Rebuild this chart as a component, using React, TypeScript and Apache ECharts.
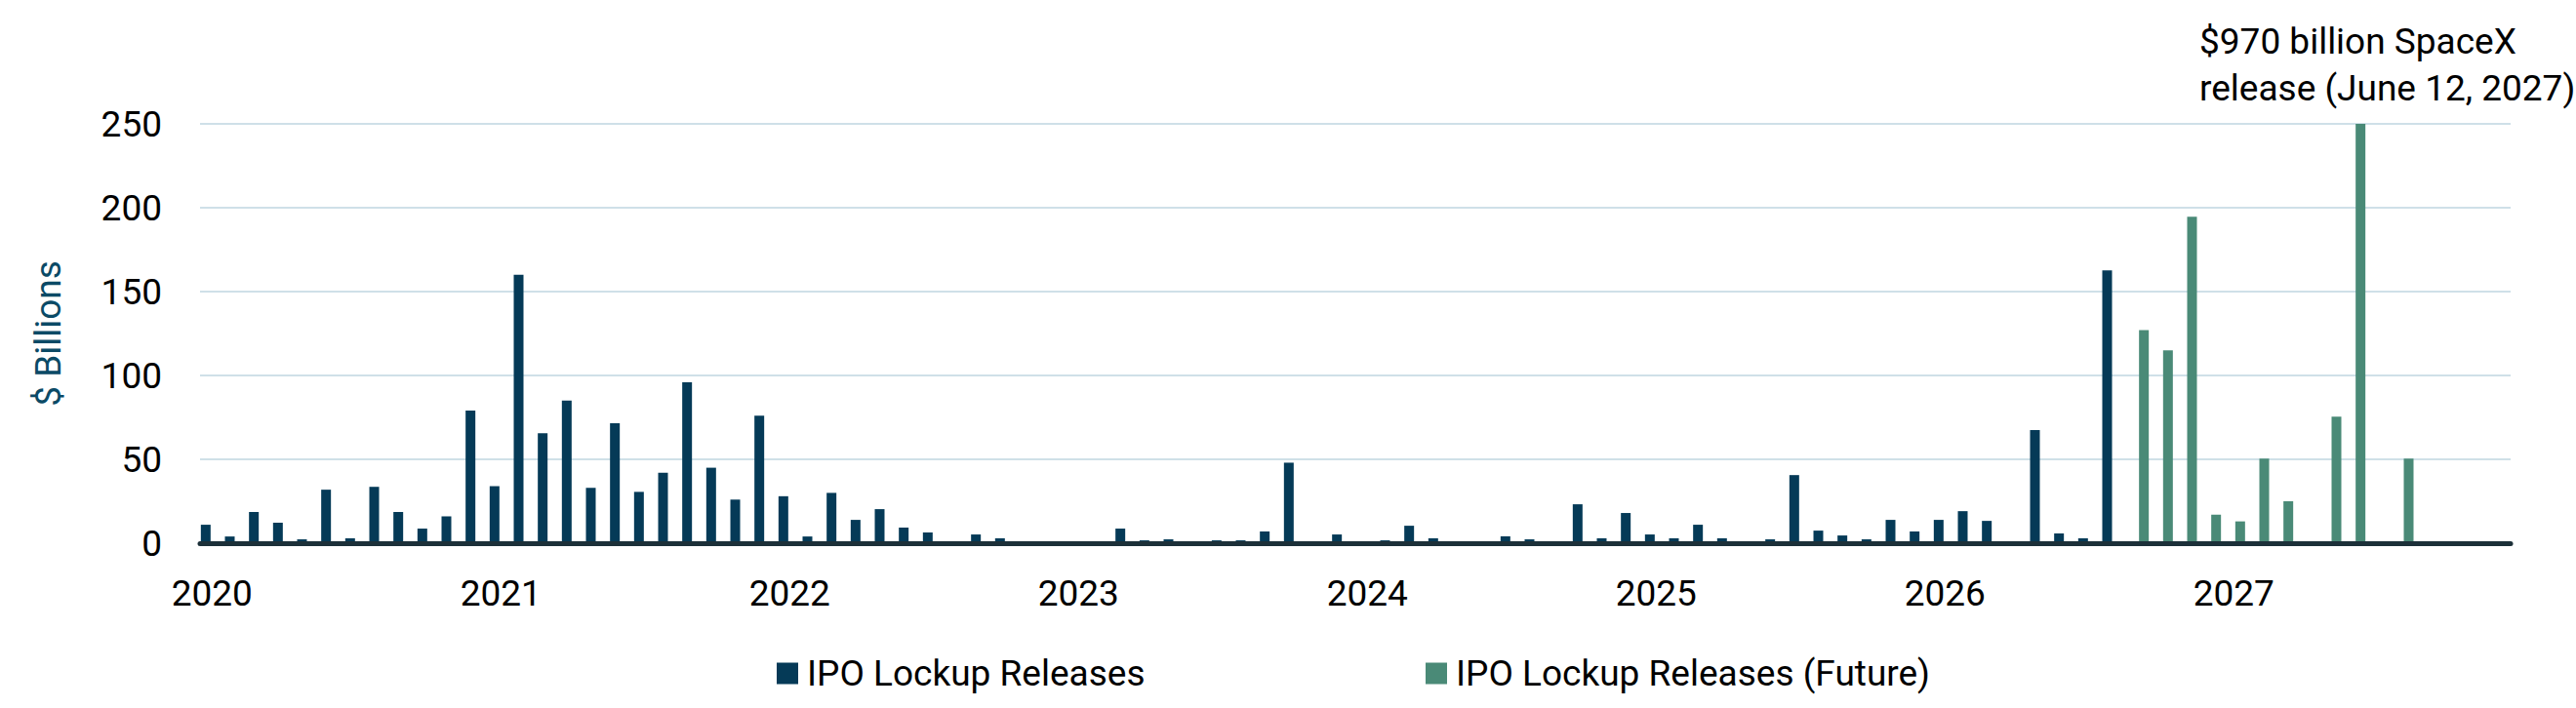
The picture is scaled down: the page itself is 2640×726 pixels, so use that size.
import { useEffect, useRef } from 'react';
import * as echarts from 'echarts';

// months Jan 2020 .. Dec 2027
const years = ['2020', '2021', '2022', '2023', '2024', '2025', '2026', '2027'];
const months = years.flatMap((y) =>
  ['01', '02', '03', '04', '05', '06', '07', '08', '09', '10', '11', '12'].map((m) => `${y}-${m}`)
);

// $ billions, Jan 2020 .. Aug 2026
const lockupReleases = [
  11, 4, 18.6, 12.2, 2.3, 31.9, 2.9, 33.6, 18.6, 8.7, 16, 79,
  34, 160, 65.6, 85, 33, 71.5, 30.6, 42, 96, 45, 26, 76,
  28, 4, 30, 13.9, 20.3, 9.3, 6.4, null, 5.2, 2.9, null, null,
  null, null, 8.7, 1.7, 2.3, null, 1.7, 1.7, 7, 48, null, 5.2,
  null, 1.7, 10.4, 2.9, null, null, 4.1, 2.3, null, 23.2, 2.9, 18,
  5.2, 2.9, 11, 2.9, null, 2.3, 40.6, 7.5, 4.6, 2.3, 13.9, 7,
  13.9, 19.1, 13.3, null, 67.5, 5.8, 2.9, 162.6,
];

// $ billions, Sep 2026 .. Dec 2027 (Jun 2027 = SpaceX, off the scale)
const futureReleases = [127, 115, 194.6, 17, 13, 50.5, 25, null, 75.5, 970, null, 50.5, null, null, null, null];

const yTicks = [0, 50, 100, 150, 200, 250];

const FONT = 'Roboto, sans-serif';

export default function App() {
  const chartRef = useRef(null);

  useEffect(() => {
    document.body.style.margin = '0';
    const chart = echarts.init(chartRef.current, null, { renderer: 'svg' });

    const pastData = months.map((_, i) => (i < lockupReleases.length ? lockupReleases[i] : null));
    const futureData = months.map((_, i) => {
      const j = i - lockupReleases.length;
      return j >= 0 && j < futureReleases.length ? futureReleases[j] : null;
    });

    const legendText = { fontSize: 37, color: '#000', fontFamily: FONT, padding: [0, 0, 0, 4] };

    const option = {
      animation: false,
      textStyle: { fontFamily: FONT },
      grid: { left: 205, right: 67, top: 127, bottom: 169 },
      legend: [
        {
          data: ['IPO Lockup Releases'],
          left: 796,
          top: 672,
          padding: 0,
          itemWidth: 22,
          itemHeight: 22,
          icon: 'rect',
          textStyle: legendText,
        },
        {
          data: ['IPO Lockup Releases (Future)'],
          left: 1461,
          top: 672,
          padding: 0,
          itemWidth: 22,
          itemHeight: 22,
          icon: 'rect',
          textStyle: legendText,
        },
      ],
      xAxis: {
        type: 'category',
        data: months,
        z: 10,
        axisLine: { lineStyle: { color: '#1c3039', width: 5 } },
        axisTick: { show: false },
        axisLabel: {
          interval: 11,
          margin: 33,
          fontSize: 37,
          color: '#000',
          fontFamily: FONT,
          formatter: (v: string) => v.slice(0, 4),
        },
      },
      yAxis: {
        type: 'value',
        min: yTicks[0],
        max: yTicks[yTicks.length - 1],
        interval: 50,
        name: '$ Billions',
        nameLocation: 'middle',
        nameGap: 137,
        nameTextStyle: { fontSize: 37, color: '#0b4a66', fontFamily: FONT },
        axisLine: { show: false },
        axisTick: { show: false },
        axisLabel: { margin: 39, fontSize: 37, color: '#000', fontFamily: FONT },
        splitLine: { lineStyle: { color: '#cfe0e8', width: 2 } },
      },
      graphic: [
        {
          type: 'text',
          left: 2254,
          top: 18,
          style: {
            text: '$970 billion SpaceX\nrelease (June 12, 2027)',
            fontSize: 37,
            lineHeight: 48,
            fontFamily: FONT,
            fill: '#000',
          },
        },
      ],
      series: [
        {
          name: 'IPO Lockup Releases',
          type: 'bar',
          data: pastData,
          barWidth: 10,
          barGap: '30%',
          itemStyle: { color: '#053a57' },
        },
        {
          name: 'IPO Lockup Releases (Future)',
          type: 'bar',
          data: futureData,
          barWidth: 10,
          barGap: '30%',
          itemStyle: { color: '#4a8a77' },
        },
      ],
    };

    chart.setOption(option);
    return () => {
      chart.dispose();
    };
  }, []);

  return <div ref={chartRef} style={{ width: '2640px', height: '726px' }} />;
}
